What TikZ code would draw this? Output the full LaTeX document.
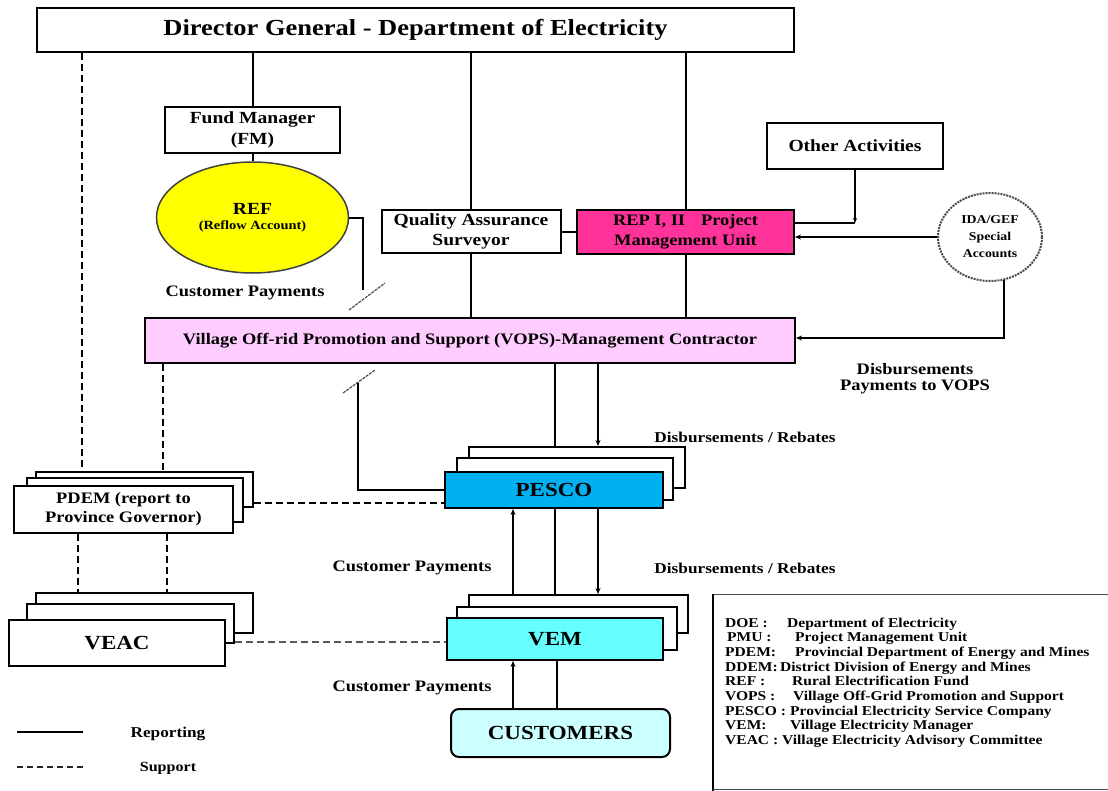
\documentclass[tikz,border=0pt]{standalone}
\usepackage{fontspec}
\setmainfont{Liberation Serif}[FakeStretch=1.15]
\usetikzlibrary{shapes.geometric,arrows.meta}
\definecolor{repc}{HTML}{FF3399}
\definecolor{vopsc}{HTML}{FFCCFF}
\definecolor{pescoc}{HTML}{00B0F0}
\definecolor{vemc}{HTML}{66FFFF}
\definecolor{custc}{HTML}{CCFFFF}
\definecolor{refc}{HTML}{FFFF00}
\newcommand{\setfs}[2]{\fontsize{#1}{#2}\selectfont}
\begin{document}
\begin{tikzpicture}[x=1pt,y=-1pt,
  box/.style={draw, line width=2pt, fill=white, inner sep=0pt, align=center, font=\bfseries},
  conn/.style={line width=2pt},
  supp/.style={line width=2.5pt, dash pattern=on 7pt off 4pt},
  arr/.style={-{Stealth[length=6pt,width=5pt]}},
  rarr/.style={{Stealth[length=6pt,width=5pt]}-},
  lbl/.style={font=\bfseries\setfs{16}{18}, inner sep=0pt, align=center},
  leg/.style={font=\bfseries\setfs{13.5}{14.7}, inner sep=0pt, anchor=base west},
  slant/.style={line width=1.2pt, gray!60!black, dash pattern=on 3pt off 1pt}]
\useasboundingbox (0,0) rectangle (1108,790);
\fill[white] (0,0) rectangle (1108,790);

% column / row helper coordinates
\coordinate (c82) at (82,0);
\coordinate (c163) at (163,0);
\coordinate (c78) at (78,0);
\coordinate (c167) at (167,0);
\coordinate (c555) at (555,0);
\coordinate (c598) at (598,0);
\coordinate (c513) at (513,0);
\coordinate (c557) at (557,0);
\coordinate (row503) at (0,503);
\coordinate (row642) at (0,642);

% top level
\node[box, line width=2.5pt, minimum width=757pt, minimum height=44pt, font=\bfseries\setfs{23}{26}] (title) at (415.5,30) {Director General - Department of Electricity};
\node[box, minimum width=175pt, minimum height=46pt, font=\bfseries\setfs{17}{21}] (fm) at (252.5,130) {Fund Manager\\(FM)};
\node[draw=gray!50!black, line width=1.5pt, fill=refc, ellipse, minimum width=192pt, minimum height=111pt, inner sep=0pt, align=center, font=\bfseries] (ref) at (252.5,217.5) {{\setfs{17}{19}REF}\\[3pt]{\setfs{12.5}{14}(Reflow Account)}};
\node[box, minimum width=179pt, minimum height=43pt, font=\bfseries\setfs{17}{20}] (qa) at (471,231.5) {Quality Assurance\\Surveyor};
\node[box, fill=repc, minimum width=217pt, minimum height=44pt, font=\bfseries\setfs{16}{20}] (rep) at (685.5,231.5) {REP I, II\quad Project\\Management Unit};
\node[box, minimum width=176pt, minimum height=46pt, font=\bfseries\setfs{17}{20}] (other) at (855,146) {Other Activities};
\node[draw=gray!60!black, line width=2pt, dash pattern=on 2pt off 1pt, fill=white, ellipse, minimum width=104pt, minimum height=88pt, inner sep=0pt, align=center, font=\bfseries\setfs{12}{17}] (ida) at (990,237) {IDA/GEF\\Special\\Accounts};
\node[box, fill=vopsc, minimum width=650pt, minimum height=45pt, font=\bfseries\setfs{16}{18}] (vops) at (470,340.5) {Village Off-rid Promotion and Support (VOPS)-Management Contractor};

% PESCO stack
\node[box, minimum width=216pt, minimum height=41pt] (pescoB) at (577,467.5) {};
\node[box, minimum width=216pt, minimum height=42pt] (pescoM) at (565,479) {};
\node[box, fill=pescoc, minimum width=218pt, minimum height=36pt, font=\bfseries\setfs{20}{22}] (pesco) at (554,490) {PESCO};

% VEM stack
\node[box, minimum width=219pt, minimum height=38pt] (vemB) at (578.5,614) {};
\node[box, minimum width=220pt, minimum height=43pt] (vemM) at (567,628.5) {};
\node[box, fill=vemc, minimum width=216pt, minimum height=42pt, font=\bfseries\setfs{20}{22}] (vem) at (555,639) {VEM};

\node[box, fill=custc, rounded corners=8pt, minimum width=219pt, minimum height=48pt, font=\bfseries\setfs{20}{22}] (cust) at (560.5,733) {CUSTOMERS};

% PDEM stack
\node[box, minimum width=217pt, minimum height=35pt] (pdemB) at (144.5,489.5) {};
\node[box, minimum width=216pt, minimum height=44pt] (pdemM) at (135,500) {};
\node[box, minimum width=219pt, minimum height=47pt, font=\bfseries\setfs{16}{19}] (pdem) at (123.5,509.5) {PDEM (report to\\Province Governor)};

% VEAC stack
\node[box, minimum width=217pt, minimum height=40pt] (veacB) at (144.5,613) {};
\node[box, minimum width=207pt, minimum height=39pt] (veacM) at (130.5,623.5) {};
\node[box, minimum width=216pt, minimum height=46pt, font=\bfseries\setfs{20}{22}] (veac) at (117,643) {VEAC};

% reporting connectors
\draw[conn] (fm.north |- title.south) -- (fm.north);
\draw[conn] (fm.south) -- (ref.north);
\draw[conn] (qa.north |- title.south) -- (qa.north);
\draw[conn] (qa.south) -- (qa.south |- vops.north);
\draw[conn] (rep.north |- title.south) -- (rep.north);
\draw[conn] (rep.south) -- (rep.south |- vops.north);
\draw[conn] (qa.east) -- (rep.west);
\coordinate (j1) at (855,223);
\draw[conn] (rep.east |- j1) -- (j1);
\draw[conn, -{Stealth[length=5pt,width=4pt]}] (other.south) -- (j1);
\draw[conn, rarr] (rep.east |- ida.west) -- (ida.west);
\coordinate (j3) at (1004,338);
\draw[conn, line width=2.5pt, arr] (ida.-72) |- (vops.east |- j3);

% REF customer payments
\coordinate (r1) at (363,290);
\draw[conn] (ref.east) -| (r1);
\draw[slant] (349,310) -- (385,283);

% PESCO to VOPS
\coordinate (p1) at (358,383);
\draw[conn, line width=2.5pt] (pesco.west) -| (p1);
\draw[slant] (343,393) -- (375,370);

\draw[conn] (vops.south -| c555) -- (pescoB.north -| c555);
\draw[conn, arr] (vops.south -| c598) -- (pescoB.north -| c598);

\draw[conn, rarr] (pesco.south -| c513) -- (vemB.north -| c513);
\draw[conn, line width=2.5pt] (pesco.south -| c555) -- (vemB.north -| c555);
\draw[conn, arr] (pesco.south -| c598) -- (vemB.north -| c598);

\draw[conn, line width=2.5pt, rarr] (vem.south -| c513) -- (cust.north -| c513);
\draw[conn, line width=2.5pt] (vem.south -| c557) -- (cust.north -| c557);

% support connectors
\draw[supp] (title.south -| c82) -- (pdemB.north -| c82);
\draw[supp] (vops.south -| c163) -- (pdemB.north -| c163);
\draw[supp] (pdem.south -| c78) -- (veacB.north -| c78);
\draw[supp] (pdem.south -| c167) -- (veacB.north -| c167);
\draw[supp] (pdemB.east |- row503) -- (pesco.west |- row503);
\draw[line width=1.8pt, gray!70!black, dash pattern=on 7pt off 4pt] (veacM.east |- row642) -- (vem.west |- row642);

% labels
\node[lbl] (cp1) at (245,293) {Customer Payments};
\node[lbl, font=\bfseries\setfs{15}{17}] (dr1) at (745,437) {Disbursements / Rebates};
\node[lbl] (cp2) at (412,568) {Customer Payments};
\node[lbl, font=\bfseries\setfs{15}{17}] (dr2) at (745,568) {Disbursements / Rebates};
\node[lbl] (cp3) at (412,688) {Customer Payments};
\node[lbl, font=\bfseries\setfs{16}{16}] (dpv) at (915,379) {Disbursements\\Payments to VOPS};

% key
\coordinate (k1) at (17,732);
\coordinate (k2) at (83,732);
\coordinate (k3) at (17,767);
\coordinate (k4) at (83,767);
\draw[line width=2.5pt] (k1) -- (k2);
\draw[line width=2pt, dash pattern=on 6pt off 4pt, gray!30!black] (k3) -- (k4);
\node[lbl, font=\bfseries\setfs{15}{17}] (krep) at (168,734) {Reporting};
\node[lbl, font=\bfseries\setfs{14}{16}] (ksup) at (168,768) {Support};

% legend box
\draw[line width=1pt, gray!60!black] (713,594) -- (1115,594);
\draw[line width=2pt] (713,594) -- (713,795);
\draw[line width=1pt, gray!60!black] (713,789) -- (1115,789);

\node[leg] (la1) at (725,627) {DOE :};
\node[leg] (lb1) at (787,627) {Department of Electricity};
\node[leg] (la2) at (727,641.7) {PMU :};
\node[leg] (lb2) at (795,641.7) {Project Management Unit};
\node[leg] (la3) at (725,656.4) {PDEM:};
\node[leg] (lb3) at (795,656.4) {Provincial Department of Energy and Mines};
\node[leg] (la4) at (725,671.1) {DDEM:};
\node[leg] (lb4) at (780,671.1) {District Division of Energy and Mines};
\node[leg] (la5) at (725,685.8) {REF :};
\node[leg] (lb5) at (792,685.8) {Rural Electrification Fund};
\node[leg] (la6) at (725,700.5) {VOPS :};
\node[leg] (lb6) at (793,700.5) {Village Off-Grid Promotion and Support};
\node[leg] (la7) at (725,715.2) {PESCO :};
\node[leg] (lb7) at (790,715.2) {Provincial Electricity Service Company};
\node[leg] (la8) at (725,729.9) {VEM:};
\node[leg] (lb8) at (790,729.9) {Village Electricity Manager};
\node[leg] (la9) at (725,744.6) {VEAC :};
\node[leg] (lb9) at (782,744.6) {Village Electricity Advisory Committee};
\end{tikzpicture}
\end{document}
